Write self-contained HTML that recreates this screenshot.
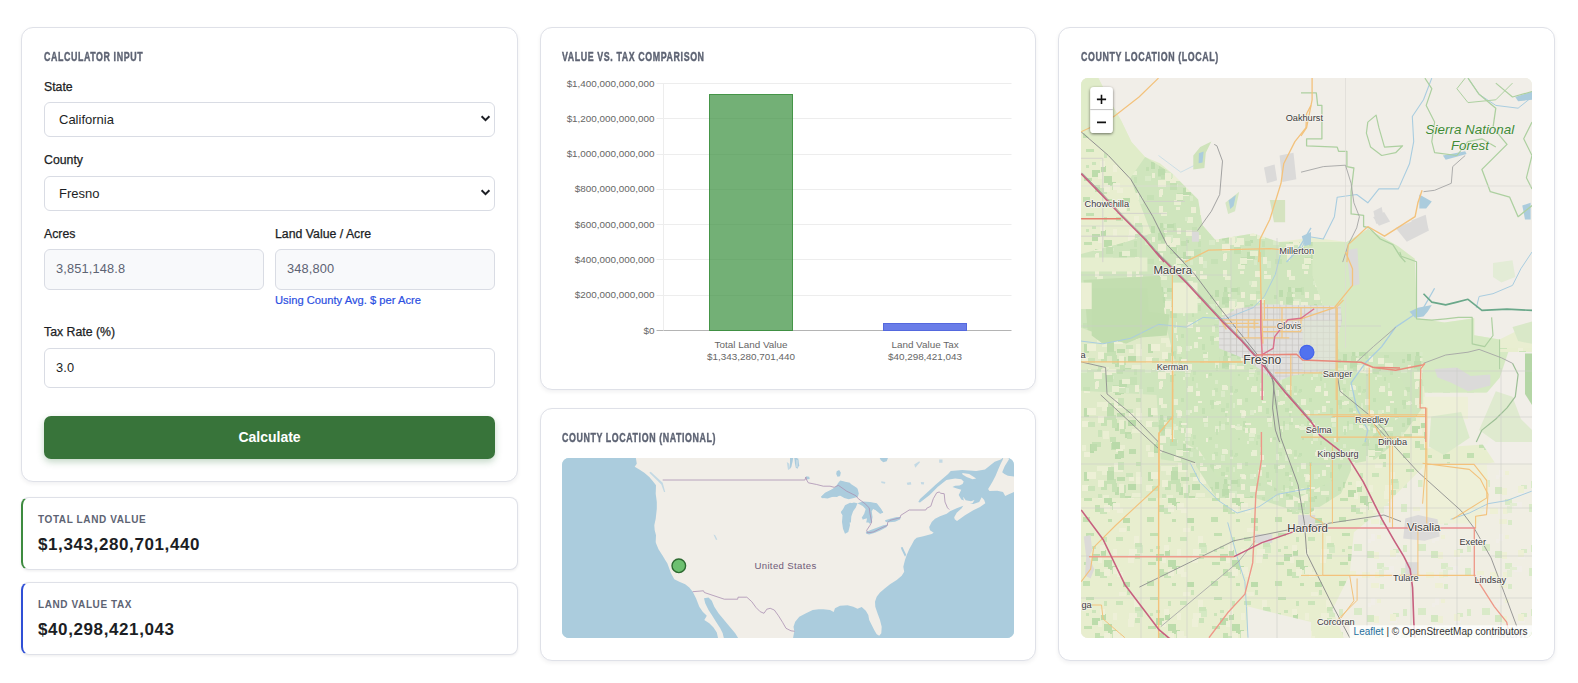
<!DOCTYPE html>
<html lang="en">
<head>
<meta charset="utf-8">
<title>Land Value Tax Calculator</title>
<style>
*{box-sizing:border-box;margin:0;padding:0}
html,body{width:1578px;height:683px;overflow:hidden;background:#fff}
body{font-family:"Liberation Sans",sans-serif;color:#1c1e24;position:relative}
.card{position:absolute;background:#fff;border:1px solid #dfe1e8;border-radius:12px;box-shadow:0 2px 4px rgba(20,25,40,.06)}
.h{position:absolute;font-weight:bold;font-size:13.3px;line-height:14px;color:#5d6373;letter-spacing:.9px;white-space:nowrap;-webkit-text-stroke:.45px #5d6373;transform-origin:0 50%;transform:scaleX(.665)}
.lbl{position:absolute;font-size:12.3px;line-height:14px;color:#1c1e24;white-space:nowrap;-webkit-text-stroke:.25px #1c1e24}
.sel{position:absolute;left:44px;width:451px;height:35px;border:1px solid #d9dce4;border-radius:6px;background:#fff;font-size:13px;line-height:33px;padding-left:14px;color:#1c1e24}
.sel svg{position:absolute;right:3px;top:11px}
.inp{position:absolute;height:41px;border:1px solid #d9dce4;border-radius:6px;background:#f8f9fb;font-size:12.8px;letter-spacing:.15px;line-height:37px;padding-left:11px;color:#5d6373}
.hint{position:absolute;left:275px;top:294px;font-size:11.2px;line-height:13px;color:#2b4fe2;white-space:nowrap;-webkit-text-stroke:.2px #2b4fe2}
.btn{position:absolute;left:44px;top:416px;width:451px;height:43px;border-radius:7px;background:#38743a;color:#fff;font-weight:bold;font-size:14px;line-height:43px;text-align:center;box-shadow:0 3px 7px rgba(40,110,50,.28)}
.res{position:absolute;left:21px;width:497px;height:73px;border:1px solid #dfe1e8;border-left-width:2px;border-radius:8px;background:#fff;box-shadow:0 1px 3px rgba(20,25,40,.08)}
.res .t{position:absolute;left:15px;top:16px;font-size:10px;line-height:12px;font-weight:bold;letter-spacing:.6px;color:#5d6373;white-space:nowrap}
.res .v{position:absolute;left:15px;top:37px;font-size:17px;letter-spacing:.6px;line-height:20px;font-weight:bold;color:#1c1e24;white-space:nowrap}
.map{position:absolute;overflow:hidden;border-radius:7px}
.map svg{display:block}
</style>
</head>
<body>

<!-- LEFT COLUMN -->
<div class="card" style="left:21px;top:27px;width:497px;height:455px"></div>
<div class="h" style="left:44px;top:50px">CALCULATOR INPUT</div>
<div class="lbl" style="left:44px;top:80px">State</div>
<div class="sel" style="top:102px">California<svg width="12" height="10" viewBox="0 0 12 10"><path d="M2.6 2.3 L6.5 6.2 L10.4 2.3" fill="none" stroke="#1c1e24" stroke-width="2"/></svg></div>
<div class="lbl" style="left:44px;top:153px">County</div>
<div class="sel" style="top:176px">Fresno<svg width="12" height="10" viewBox="0 0 12 10"><path d="M2.6 2.3 L6.5 6.2 L10.4 2.3" fill="none" stroke="#1c1e24" stroke-width="2"/></svg></div>
<div class="lbl" style="left:44px;top:227px">Acres</div>
<div class="lbl" style="left:275px;top:227px">Land Value / Acre</div>
<div class="inp" style="left:44px;top:249px;width:220px">3,851,148.8</div>
<div class="inp" style="left:275px;top:249px;width:220px">348,800</div>
<div class="hint">Using County Avg. $ per Acre</div>
<div class="lbl" style="left:44px;top:325px">Tax Rate (%)</div>
<div class="inp" style="left:44px;top:348px;width:451px;height:40px;background:#fff;color:#1c1e24">3.0</div>
<div class="btn">Calculate</div>

<div class="res" style="top:497px;border-left-color:#3d8b3f"><div class="t">TOTAL LAND VALUE</div><div class="v">$1,343,280,701,440</div></div>
<div class="res" style="top:582px;border-left-color:#2f4fd6"><div class="t">LAND VALUE TAX</div><div class="v">$40,298,421,043</div></div>

<!-- MIDDLE COLUMN -->
<div class="card" style="left:540px;top:27px;width:496px;height:363px"></div>
<div class="h" style="left:562px;top:50px">VALUE VS. TAX COMPARISON</div>
<svg id="chart" width="496" height="362" viewBox="0 0 496 362" style="position:absolute;left:540px;top:27px" font-family="Liberation Sans, sans-serif" font-size="9.9" fill="#666">
<path d="M116.5 56.5H471.5" stroke="#ededed" stroke-width="1"/>
<text x="114.5" y="59.5" text-anchor="end">$1,400,000,000,000</text>
<path d="M116.5 91.5H471.5" stroke="#ededed" stroke-width="1"/>
<text x="114.5" y="94.8" text-anchor="end">$1,200,000,000,000</text>
<path d="M116.5 127.5H471.5" stroke="#ededed" stroke-width="1"/>
<text x="114.5" y="130.1" text-anchor="end">$1,000,000,000,000</text>
<path d="M116.5 162.5H471.5" stroke="#ededed" stroke-width="1"/>
<text x="114.5" y="165.4" text-anchor="end">$800,000,000,000</text>
<path d="M116.5 197.5H471.5" stroke="#ededed" stroke-width="1"/>
<text x="114.5" y="200.6" text-anchor="end">$600,000,000,000</text>
<path d="M116.5 232.5H471.5" stroke="#ededed" stroke-width="1"/>
<text x="114.5" y="235.9" text-anchor="end">$400,000,000,000</text>
<path d="M116.5 268.5H471.5" stroke="#ededed" stroke-width="1"/>
<text x="114.5" y="271.2" text-anchor="end">$200,000,000,000</text>
<path d="M116.5 303.5H471.5" stroke="#b4b4b4" stroke-width="1"/>
<text x="114.5" y="306.5" text-anchor="end">$0</text>
<path d="M123.5 56V303.5" stroke="#ededed" stroke-width="1"/>
<rect x="169.5" y="67.5" width="83" height="236.0" fill="rgba(56,142,60,.7)" stroke="rgba(56,142,60,.9)" stroke-width="1"/>
<rect x="343.5" y="296.5" width="83" height="7.0" fill="#6a7de8" stroke="#5468de" stroke-width="1"/>
<text x="211" y="321.4" text-anchor="middle">Total Land Value</text>
<text x="211" y="333.4" text-anchor="middle">$1,343,280,701,440</text>
<text x="385" y="321.4" text-anchor="middle">Land Value Tax</text>
<text x="385" y="333.4" text-anchor="middle">$40,298,421,043</text>
</svg>

<div class="card" style="left:540px;top:408px;width:496px;height:253px"></div>
<div class="h" style="left:562px;top:431px">COUNTY LOCATION (NATIONAL)</div>
<div class="map" id="natmap" style="left:562px;top:458px;width:452px;height:180px;background:#aad3df">
<svg width="452" height="180" viewBox="0 0 452 180">
<rect width="452" height="180" fill="#abccdd"/>
<path d="M73.7 -1.0 L74.8 5.7 L72.7 8.7 L77.3 11.5 L82.3 14.8 L87.3 19.0 L91.5 24.0 L94.0 27.3 L93.7 35.7 L94.8 44.0 L94.8 50.7 L93.7 60.7 L92.3 67.3 L92.7 72.3 L94.0 77.3 L93.7 84.0 L94.0 85.3 L96.5 91.2 L100.7 97.8 L103.2 102.0 L105.3 105.3 L109.0 115.3 L112.3 121.2 L117.3 123.7 L123.2 126.2 L127.3 129.5 L130.7 133.7 L134.0 140.3 L137.3 148.7 L140.7 153.7 L144.8 157.8 L142.3 162.0 L147.3 165.3 L151.5 169.5 L154.8 174.5 L156.5 182.0 L230.7 182.0 L232.3 173.3 L231.5 168.7 L233.2 163.7 L237.3 158.7 L244.0 155.3 L250.7 152.0 L256.7 151.2 L261.3 151.2 L268.0 152.0 L271.7 154.0 L273.0 150.3 L278.0 147.8 L285.5 147.3 L291.3 148.7 L295.5 150.7 L299.7 149.0 L303.8 152.8 L306.3 157.0 L307.2 162.0 L309.7 167.0 L312.2 172.0 L314.7 176.2 L317.2 177.8 L319.3 175.3 L319.7 168.7 L318.0 162.0 L315.5 155.3 L313.3 148.7 L313.0 143.7 L314.7 138.7 L318.0 134.5 L323.0 130.3 L328.0 126.2 L334.7 122.0 L339.7 117.8 L342.2 113.7 L341.3 108.7 L343.0 102.0 L344.7 97.0 L347.2 91.2 L350.5 85.3 L352.2 82.0 L354.7 79.8 L361.3 78.2 L369.7 76.0 L371.7 74.7 L368.0 72.3 L367.2 69.0 L369.7 64.0 L373.0 60.7 L378.0 58.2 L384.7 55.7 L388.0 53.2 L394.7 50.3 L401.3 47.7 L399.7 50.3 L394.7 54.8 L392.2 59.3 L392.7 61.3 L395.0 63.0 L403.0 57.3 L411.3 52.3 L418.0 49.0 L423.3 45.3 L422.2 42.0 L419.7 39.3 L417.2 44.0 L411.3 46.0 L404.7 44.3 L401.3 42.3 L399.3 41.5 L396.7 37.1 L399.3 31.8 L394.9 30.5 L390.5 29.1 L393.1 27.8 L397.5 27.4 L400.6 26.1 L401.7 23.4 L399.3 21.2 L393.1 20.4 L384.4 22.1 L375.6 29.1 L367.7 37.1 L358.0 44.5 L356.3 44.0 L358.0 41.0 L366.8 33.1 L373.8 26.5 L380.0 21.2 L386.1 16.0 L388.8 12.9 L400.2 12.0 L414.2 12.9 L423.0 11.6 L428.3 7.2 L432.7 3.7 L438.8 1.5 L441.5 -0.7 L441.5 -4.2Z" fill="#f1eee8"/>
<path d="M442.4 -4.2 L446.9 -4.2 L446.9 1.5 L442.8 8.1 L440.2 14.2 L442.4 16.0 L445.9 17.7 L452.5 18.6 L456.4 18.6 L456.4 35.3 L452.0 34.0 L446.8 36.2 L443.2 37.9 L441.0 34.0 L435.3 32.7 L427.4 33.1 L426.1 30.9 L428.3 27.4 L430.9 23.0 L433.6 17.7 L436.2 11.6 L438.8 5.4 L440.6 1.9Z" fill="#f1eee8"/>
<path d="M400.2 15.1 L407.2 16.0 L414.2 20.4 L410.7 21.2 L404.6 19.0 L400.6 16.4Z" fill="#f1eee8"/>
<path d="M401.1 38.8 L403.7 42.3 L409.0 43.2 L412.5 41.9 L410.7 45.0 L405.5 45.8 L401.9 43.2Z" fill="#f1eee8"/>
<path d="M142.0 140.3 L146.5 139.5 L149.8 142.8 L152.3 148.7 L156.5 155.3 L160.7 160.3 L164.8 165.3 L169.0 170.3 L173.2 175.3 L177.3 182.0 L162.3 182.0 L160.7 175.3 L158.2 170.3 L154.0 163.7 L149.8 157.0 L146.5 152.0 L143.2 145.3Z" fill="#abccdd"/>
<path d="M259.0 39.1 L262.9 35.6 L268.2 32.6 L273.5 29.5 L276.1 25.1 L278.3 22.5 L283.1 23.8 L288.0 24.7 L291.1 29.5 L295.5 30.4 L296.8 35.6 L295.9 38.7 L291.9 40.0 L286.7 41.3 L282.3 40.0 L277.9 37.4 L275.2 38.3 L270.0 39.1 L265.6 40.5 L261.2 40.0Z" fill="#abccdd"/>
<path d="M279.2 55.0 L282.3 49.7 L285.8 46.2 L291.9 44.6 L295.5 45.3 L293.7 49.7 L291.1 53.2 L289.3 58.5 L288.9 64.6 L280.5 64.6 L281.8 58.5 L281.0 56.7Z" fill="#abccdd"/>
<path d="M295.5 45.3 L300.7 43.5 L307.8 44.0 L314.8 45.3 L318.3 49.7 L320.9 54.1 L318.3 55.4 L313.9 51.9 L310.4 50.6 L309.1 53.2 L309.5 58.5 L310.0 64.6 L304.2 64.6 L305.1 60.2 L302.5 61.1 L300.3 61.6 L301.6 58.5 L304.2 55.8 L304.2 51.5 L300.7 47.9Z" fill="#abccdd"/>
<path d="M258.8 39.0 L263.0 34.8 L269.7 31.5 L276.3 27.3 L278.0 23.2 L283.0 24.0 L289.7 26.5 L294.7 29.8 L296.3 35.7 L293.8 38.2 L288.0 35.7 L283.0 34.8 L279.7 36.5 L274.7 39.0 L269.7 38.2 L264.7 39.8 L260.5 40.3Z" fill="#abccdd"/>
<path d="M283.0 47.3 L288.0 44.8 L292.2 45.7 L290.5 49.8 L288.0 54.0 L287.2 60.7 L288.0 67.3 L286.3 74.0 L283.0 75.7 L281.0 70.7 L280.0 64.0 L280.5 57.3 L278.8 54.0 L281.3 50.7Z" fill="#abccdd"/>
<path d="M299.7 44.0 L306.3 44.0 L313.0 45.7 L318.8 50.7 L321.3 54.8 L318.0 55.7 L313.8 52.3 L311.3 50.7 L309.7 53.2 L310.5 59.0 L309.7 64.0 L307.2 65.7 L305.5 60.7 L303.0 59.0 L301.3 61.5 L299.7 59.8 L302.2 55.7 L303.8 50.7 L301.3 47.3Z" fill="#abccdd"/>
<path d="M303.8 74.0 L308.0 72.3 L314.7 69.8 L321.3 67.3 L325.5 66.5 L324.7 69.0 L318.8 72.3 L313.0 74.8 L307.2 76.5 L304.3 75.7Z" fill="#abccdd"/>
<path d="M323.0 62.3 L328.0 60.7 L334.7 59.0 L338.8 59.0 L338.0 61.5 L333.0 63.7 L327.2 64.3 L323.8 64.0Z" fill="#abccdd"/>
<path d="M274.7 13.2 L277.2 12.0 L278.8 14.8 L278.0 18.2 L275.5 18.7 L274.2 16.0Z" fill="#abccdd"/>
<path d="M232.2 -1.0 L236.3 0.7 L237.2 7.3 L235.5 10.7 L233.8 9.8 L233.0 5.7Z" fill="#abccdd"/>
<path d="M317.2 -1.0 L326.3 -1.0 L324.7 3.2 L321.3 4.3 L318.8 2.3Z" fill="#abccdd"/>
<path d="M228.0 -1.0 L231.3 -1.0 L230.5 4.0 L229.3 9.0 L228.0 10.7Z" fill="#abccdd"/>
<path d="M243.8 18.2 L247.2 18.7 L247.7 21.0 L244.7 21.5Z" fill="#abccdd"/>
<path d="M343.0 98.7 L339.7 92.0 L338.8 89.5 L340.5 89.0 L344.2 96.7Z" fill="#abccdd"/>
<path d="M151.5 76.5 L153.2 77.3 L155.3 81.5 L154.0 82.0Z" fill="#c3d9e4"/>
<path d="M224.8 4.0 L227.3 5.7 L228.2 10.7 L226.0 12.0Z" fill="#c3d9e4"/>
<path d="M234.0 1.5 L236.5 2.3 L235.7 9.8 L234.0 9.0Z" fill="#c3d9e4"/>
<path d="M352.2 6.5 L357.2 3.2 L358.0 4.3 L353.3 9.8Z" fill="#c3d9e4"/>
<path d="M377.2 1.5 L380.5 1.5 L380.5 4.8 L377.2 4.8Z" fill="#c3d9e4"/>
<path d="M358.8 24.0 L362.2 24.3 L361.8 26.5 L359.2 26.2Z" fill="#c3d9e4"/>
<path d="M344.7 24.8 L348.8 24.0 L349.3 26.5 L345.5 27.0Z" fill="#c3d9e4"/>
<path d="M319.3 23.2 L323.3 24.0 L323.0 25.7 L319.3 25.0Z" fill="#c3d9e4"/>
<path d="M88.7 13.7 L100.7 24.8 L103.2 34.0 L102.0 34.0 L99.3 26.5 L87.3 14.8Z" fill="#c3d9e4"/>
<path d="M100.7 22.0 L242.3 22.0 L243.0 22.0 L243.8 19.0 L244.7 22.0 L246.3 24.8 L254.7 26.5 L261.3 28.2 L268.0 28.2 L272.2 29.3 L276.3 27.3 L284.7 33.2 L293.8 37.7 L296.3 40.7 L299.7 43.2 L303.0 45.7 L307.2 49.8 L308.0 55.7 L309.7 64.0 L308.0 67.3 L304.7 72.3 L305.5 74.8 L311.3 74.0 L318.0 70.7 L325.5 67.3 L325.5 64.8 L328.0 62.3 L338.0 59.8 L338.8 57.3 L347.2 52.0 L363.8 52.0 L364.7 50.3 L368.8 48.2 L371.3 40.7 L374.7 34.8 L377.2 34.0 L378.8 35.3 L382.2 35.7 L383.0 44.0 L385.5 49.8 L387.2 51.5" fill="none" stroke="#ab90b2" stroke-width=".8"/>
<path d="M130.7 133.7 L141.5 132.8 L142.3 134.5 L162.3 141.2 L175.7 141.2 L176.0 139.2 L184.8 139.2 L189.8 143.7 L194.0 149.5 L198.2 153.7 L202.0 155.3 L204.8 151.2 L208.2 150.3 L212.3 152.0 L216.5 157.8 L220.7 164.5 L224.0 170.3 L229.0 172.8 L232.7 173.3" fill="none" stroke="#ab90b2" stroke-width=".8"/>
<text x="223.5" y="110.6" font-family="Liberation Sans, sans-serif" font-size="9.6" letter-spacing=".35" fill="#6f5a78" text-anchor="middle">United States</text>
<circle cx="116.8" cy="107.8" r="6.8" fill="#6dc070" stroke="#2d6a31" stroke-width="1.4"/>
</svg>
</div>

<!-- RIGHT COLUMN -->
<div class="card" style="left:1058px;top:27px;width:497px;height:634px"></div>
<div class="h" style="left:1081px;top:50px">COUNTY LOCATION (LOCAL)</div>
<div class="map" id="locmap" style="left:1081px;top:78px;width:451px;height:560px;background:#e9efd5">
<svg width="451" height="560" viewBox="0 0 451 560" font-family="Liberation Sans, sans-serif">
<defs>
<pattern id="pg" width="6.2" height="6.2" patternUnits="userSpaceOnUse"><rect width="6.2" height="6.2" fill="#e1e0de"/><path d="M0 .5H6.2M.5 0V6.2" stroke="#c6c4c1" stroke-width=".7"/></pattern>
</defs>
<rect width="451" height="560" fill="#f1eee8"/>
<defs><pattern id="qa" width="64" height="64" patternUnits="userSpaceOnUse"><rect width="64" height="64" fill="#cfe5bd"/><rect x="54" y="51" width="4" height="7" fill="#ecefd5"/><rect x="7" y="31" width="3" height="5" fill="#ecefd5"/><rect x="41" y="24" width="6" height="6" fill="#ecefd5"/><rect x="31" y="1" width="4" height="3" fill="#ecefd5"/><rect x="38" y="48" width="6" height="6" fill="#ecefd5"/><rect x="28" y="17" width="3" height="8" fill="#c6e1b5"/><rect x="6" y="20" width="4" height="7" fill="#bddcad"/><rect x="41" y="34" width="3" height="3" fill="#bddcad"/><rect x="13" y="27" width="6" height="8" fill="#c6e1b5"/><rect x="14" y="48" width="3" height="7" fill="#ecefd5"/><rect x="14" y="22" width="6" height="7" fill="#c3dfb2"/><rect x="48" y="29" width="8" height="4" fill="#e8efd2"/><rect x="53" y="35" width="3" height="6" fill="#c6e1b5"/><rect x="40" y="46" width="3" height="4" fill="#ecefd5"/><rect x="47" y="21" width="5" height="3" fill="#c6e1b5"/><rect x="27" y="32" width="8" height="7" fill="#ecefd5"/><rect x="19" y="18" width="8" height="4" fill="#d9eac8"/><rect x="25" y="37" width="6" height="7" fill="#ecefd5"/><rect x="15" y="47" width="3" height="6" fill="#ecefd5"/><rect x="42" y="11" width="6" height="6" fill="#e8efd2"/><rect x="49" y="43" width="7" height="8" fill="#c6e1b5"/><rect x="28" y="42" width="5" height="3" fill="#d9eac8"/><rect x="33" y="53" width="3" height="4" fill="#ecefd5"/><rect x="46" y="1" width="5" height="6" fill="#ecefd5"/><rect x="45" y="54" width="3" height="5" fill="#d9eac8"/><rect x="25" y="41" width="7" height="7" fill="#c3dfb2"/><rect x="14" y="0" width="4" height="7" fill="#ecefd5"/><rect x="58" y="55" width="4" height="7" fill="#d9eac8"/><rect x="32" y="22" width="4" height="6" fill="#ecefd5"/><rect x="29" y="58" width="7" height="5" fill="#e8efd2"/><rect x="38" y="46" width="8" height="7" fill="#bddcad"/><rect x="32" y="51" width="6" height="8" fill="#c3dfb2"/><rect x="13" y="27" width="7" height="7" fill="#bddcad"/><rect x="36" y="35" width="6" height="5" fill="#c3dfb2"/><rect x="31" y="52" width="7" height="6" fill="#e8efd2"/><rect x="0" y="34" width="6" height="5" fill="#d9eac8"/><rect x="21" y="29" width="7" height="7" fill="#d9eac8"/><rect x="40" y="11" width="3" height="4" fill="#d9eac8"/><rect x="55" y="5" width="7" height="4" fill="#ecefd5"/><rect x="2" y="53" width="7" height="5" fill="#c6e1b5"/><rect x="55" y="1" width="3" height="3" fill="#ecefd5"/><rect x="15" y="17" width="3" height="5" fill="#bddcad"/><rect x="22" y="18" width="7" height="4" fill="#bddcad"/><rect x="16" y="33" width="4" height="4" fill="#c3dfb2"/><rect x="41" y="45" width="8" height="5" fill="#e8efd2"/><rect x="20" y="31" width="6" height="8" fill="#ecefd5"/><rect x="19" y="24" width="3" height="3" fill="#e8efd2"/><rect x="16" y="6" width="6" height="4" fill="#e8efd2"/><rect x="13" y="38" width="8" height="7" fill="#ecefd5"/><rect x="1" y="25" width="3" height="4" fill="#c3dfb2"/></pattern><pattern id="qb" width="64" height="64" patternUnits="userSpaceOnUse"><rect width="64" height="64" fill="#e8eecf"/><rect x="5" y="23" width="3" height="3" fill="#cbe4b9"/><rect x="54" y="19" width="8" height="8" fill="#d5e9c3"/><rect x="38" y="2" width="7" height="4" fill="#eef0d8"/><rect x="27" y="40" width="8" height="4" fill="#bcdcab"/><rect x="23" y="34" width="8" height="7" fill="#bcdcab"/><rect x="2" y="55" width="7" height="5" fill="#c3e0b1"/><rect x="20" y="24" width="5" height="6" fill="#bcdcab"/><rect x="35" y="11" width="7" height="4" fill="#cbe4b9"/><rect x="11" y="20" width="4" height="3" fill="#cbe4b9"/><rect x="32" y="23" width="4" height="7" fill="#eef0d8"/><rect x="11" y="28" width="8" height="7" fill="#bcdcab"/><rect x="48" y="23" width="8" height="7" fill="#eef0d8"/><rect x="54" y="28" width="5" height="5" fill="#cbe4b9"/><rect x="47" y="29" width="6" height="8" fill="#eef0d8"/><rect x="17" y="31" width="4" height="6" fill="#eef0d8"/><rect x="42" y="56" width="7" height="5" fill="#bcdcab"/><rect x="36" y="46" width="6" height="5" fill="#eef0d8"/><rect x="31" y="42" width="8" height="6" fill="#cbe4b9"/><rect x="53" y="10" width="5" height="8" fill="#eef0d8"/><rect x="19" y="19" width="5" height="6" fill="#eef0d8"/><rect x="32" y="41" width="7" height="7" fill="#eef0d8"/><rect x="19" y="46" width="7" height="6" fill="#cbe4b9"/><rect x="23" y="43" width="6" height="7" fill="#eef0d8"/><rect x="46" y="0" width="3" height="5" fill="#cbe4b9"/><rect x="3" y="36" width="8" height="3" fill="#c3e0b1"/><rect x="14" y="43" width="5" height="7" fill="#c3e0b1"/><rect x="54" y="17" width="7" height="4" fill="#cbe4b9"/><rect x="27" y="57" width="4" height="3" fill="#c3e0b1"/><rect x="23" y="11" width="3" height="5" fill="#cbe4b9"/><rect x="5" y="7" width="8" height="3" fill="#c3e0b1"/></pattern><pattern id="qc" width="64" height="64" patternUnits="userSpaceOnUse"><rect width="64" height="64" fill="#f0eee3"/><rect x="34" y="8" width="4" height="7" fill="#f1eee8"/><rect x="40" y="37" width="7" height="6" fill="#d9eac8"/><rect x="53" y="30" width="7" height="3" fill="#f1eee8"/><rect x="12" y="45" width="7" height="4" fill="#eef0d5"/><rect x="30" y="25" width="7" height="7" fill="#d3e7c1"/><rect x="40" y="9" width="4" height="4" fill="#eef0d5"/><rect x="0" y="42" width="6" height="8" fill="#d9eac8"/><rect x="2" y="19" width="4" height="7" fill="#d9eac8"/><rect x="38" y="46" width="5" height="6" fill="#eef0d5"/><rect x="25" y="46" width="8" height="6" fill="#eef0d5"/><rect x="56" y="23" width="6" height="4" fill="#d9eac8"/><rect x="31" y="13" width="3" height="4" fill="#f1eee8"/><rect x="49" y="40" width="8" height="6" fill="#f1eee8"/><rect x="53" y="24" width="6" height="7" fill="#eef0d5"/><rect x="37" y="26" width="5" height="7" fill="#eef0d5"/><rect x="43" y="58" width="4" height="5" fill="#d9eac8"/><rect x="42" y="44" width="5" height="7" fill="#e3edd3"/><rect x="34" y="57" width="8" height="5" fill="#eef0d5"/><rect x="45" y="41" width="7" height="3" fill="#e3edd3"/><rect x="17" y="18" width="8" height="7" fill="#d9eac8"/></pattern><pattern id="qe" width="64" height="64" patternUnits="userSpaceOnUse"><rect width="64" height="64" fill="#dfeac8"/><rect x="47" y="22" width="8" height="6" fill="#b9daa9"/><rect x="33" y="1" width="9" height="9" fill="#edf0d6"/><rect x="3" y="10" width="5" height="9" fill="#bedcad"/><rect x="55" y="15" width="6" height="7" fill="#edf0d6"/><rect x="36" y="15" width="8" height="4" fill="#bedcad"/><rect x="26" y="17" width="9" height="5" fill="#c6e1b4"/><rect x="48" y="51" width="7" height="5" fill="#bedcad"/><rect x="39" y="28" width="5" height="8" fill="#c6e1b4"/><rect x="55" y="0" width="5" height="4" fill="#c6e1b4"/><rect x="55" y="10" width="5" height="5" fill="#eaefd3"/><rect x="34" y="56" width="6" height="5" fill="#b9daa9"/><rect x="11" y="44" width="9" height="5" fill="#c6e1b4"/><rect x="1" y="23" width="7" height="6" fill="#edf0d6"/><rect x="16" y="4" width="5" height="5" fill="#eaefd3"/><rect x="37" y="0" width="6" height="8" fill="#cbe3b9"/><rect x="21" y="4" width="9" height="9" fill="#eaefd3"/><rect x="30" y="44" width="6" height="6" fill="#eaefd3"/><rect x="30" y="45" width="5" height="7" fill="#c6e1b4"/><rect x="1" y="47" width="4" height="6" fill="#eaefd3"/><rect x="35" y="50" width="7" height="4" fill="#edf0d6"/><rect x="37" y="53" width="6" height="7" fill="#bedcad"/><rect x="45" y="11" width="7" height="4" fill="#cbe3b9"/><rect x="48" y="15" width="5" height="4" fill="#edf0d6"/><rect x="22" y="33" width="6" height="8" fill="#eaefd3"/><rect x="37" y="47" width="7" height="4" fill="#eaefd3"/><rect x="27" y="5" width="6" height="4" fill="#c6e1b4"/><rect x="39" y="23" width="6" height="8" fill="#c6e1b4"/><rect x="44" y="34" width="6" height="6" fill="#bedcad"/><rect x="20" y="19" width="6" height="9" fill="#c6e1b4"/><rect x="9" y="46" width="4" height="9" fill="#b9daa9"/><rect x="10" y="46" width="6" height="7" fill="#bedcad"/><rect x="34" y="25" width="4" height="8" fill="#bedcad"/><rect x="38" y="22" width="5" height="9" fill="#eaefd3"/><rect x="26" y="9" width="7" height="9" fill="#bedcad"/><rect x="51" y="31" width="9" height="4" fill="#eaefd3"/><rect x="46" y="36" width="5" height="5" fill="#c6e1b4"/><rect x="6" y="10" width="9" height="7" fill="#edf0d6"/><rect x="3" y="54" width="6" height="5" fill="#edf0d6"/><rect x="29" y="39" width="6" height="5" fill="#c6e1b4"/><rect x="31" y="44" width="8" height="7" fill="#b9daa9"/><rect x="17" y="18" width="6" height="7" fill="#edf0d6"/><rect x="7" y="24" width="7" height="5" fill="#cbe3b9"/><rect x="31" y="21" width="5" height="9" fill="#c6e1b4"/><rect x="17" y="32" width="4" height="7" fill="#cbe3b9"/></pattern><pattern id="qd" width="64" height="64" patternUnits="userSpaceOnUse"><rect width="64" height="64" fill="#cfe6bc"/><rect x="6" y="46" width="3" height="4" fill="#dcebca"/><rect x="5" y="4" width="5" height="3" fill="#e9efd4"/><rect x="58" y="18" width="5" height="6" fill="#e9efd4"/><rect x="34" y="23" width="3" height="6" fill="#c4e0b3"/><rect x="16" y="13" width="3" height="2" fill="#e9efd4"/><rect x="12" y="10" width="4" height="4" fill="#c4e0b3"/><rect x="5" y="54" width="4" height="4" fill="#c7e2b6"/><rect x="32" y="15" width="4" height="5" fill="#e4eed0"/><rect x="17" y="5" width="3" height="5" fill="#c7e2b6"/><rect x="58" y="18" width="4" height="2" fill="#c7e2b6"/><rect x="12" y="26" width="4" height="6" fill="#dcebca"/><rect x="27" y="28" width="6" height="4" fill="#e4eed0"/><rect x="16" y="52" width="3" height="4" fill="#e9efd4"/><rect x="29" y="40" width="2" height="2" fill="#c4e0b3"/><rect x="41" y="30" width="6" height="6" fill="#eef0d8"/><rect x="43" y="12" width="4" height="3" fill="#e9efd4"/><rect x="40" y="40" width="5" height="3" fill="#dcebca"/><rect x="22" y="27" width="4" height="3" fill="#eef0d8"/><rect x="40" y="35" width="6" height="4" fill="#e4eed0"/><rect x="53" y="3" width="4" height="2" fill="#eef0d8"/><rect x="48" y="37" width="3" height="4" fill="#c7e2b6"/><rect x="21" y="59" width="3" height="2" fill="#e4eed0"/><rect x="1" y="2" width="4" height="5" fill="#c4e0b3"/><rect x="47" y="43" width="2" height="4" fill="#c4e0b3"/><rect x="18" y="20" width="2" height="4" fill="#e4eed0"/><rect x="43" y="52" width="5" height="6" fill="#e9efd4"/><rect x="12" y="57" width="4" height="6" fill="#dcebca"/><rect x="16" y="24" width="4" height="3" fill="#c7e2b6"/><rect x="36" y="0" width="3" height="4" fill="#c4e0b3"/><rect x="10" y="23" width="2" height="5" fill="#c4e0b3"/><rect x="6" y="28" width="4" height="6" fill="#e4eed0"/><rect x="7" y="3" width="5" height="3" fill="#e9efd4"/><rect x="38" y="43" width="2" height="3" fill="#e4eed0"/><rect x="34" y="31" width="6" height="2" fill="#c7e2b6"/><rect x="2" y="7" width="3" height="4" fill="#c7e2b6"/><rect x="41" y="12" width="4" height="5" fill="#dcebca"/><rect x="28" y="26" width="3" height="3" fill="#dcebca"/><rect x="26" y="28" width="2" height="3" fill="#e4eed0"/><rect x="31" y="12" width="5" height="3" fill="#e9efd4"/><rect x="16" y="15" width="2" height="4" fill="#c7e2b6"/><rect x="26" y="55" width="3" height="3" fill="#c4e0b3"/><rect x="3" y="57" width="3" height="4" fill="#c4e0b3"/><rect x="36" y="25" width="6" height="2" fill="#eef0d8"/><rect x="24" y="5" width="2" height="5" fill="#dcebca"/><rect x="57" y="10" width="3" height="6" fill="#c4e0b3"/><rect x="51" y="57" width="4" height="5" fill="#eef0d8"/><rect x="33" y="13" width="4" height="5" fill="#eef0d8"/><rect x="59" y="25" width="4" height="4" fill="#dcebca"/><rect x="61" y="40" width="2" height="4" fill="#eef0d8"/><rect x="25" y="57" width="3" height="2" fill="#c7e2b6"/><rect x="42" y="54" width="3" height="4" fill="#e9efd4"/><rect x="36" y="30" width="3" height="5" fill="#eef0d8"/><rect x="13" y="51" width="5" height="5" fill="#e9efd4"/><rect x="0" y="39" width="3" height="3" fill="#c4e0b3"/><rect x="51" y="49" width="2" height="5" fill="#dcebca"/><rect x="3" y="56" width="3" height="6" fill="#e4eed0"/><rect x="21" y="52" width="3" height="6" fill="#c7e2b6"/><rect x="28" y="1" width="5" height="6" fill="#e9efd4"/><rect x="7" y="31" width="2" height="6" fill="#c7e2b6"/><rect x="49" y="8" width="4" height="6" fill="#e9efd4"/></pattern></defs>
<path d="M-2.6 -2.6L16.1 -2.6L29.7 24.6L39.9 42.0L50.5 64.1L64.1 78.9L91.7 95.9L117.1 121.4L121.4 146.9L134.1 161.7L172.3 155.4L197.8 163.9L231.8 159.6L265.8 163.9L287.0 151.1L316.7 168.1L333.7 180.8L335.8 240.3L363.4 244.5L393.2 240.3L393.2 257.3L418.6 261.5L444.1 248.8L456.8 248.8L456.8 291.2L-2.6 291.2Z" fill="#e9eed1" />
<path d="M0 270L451 270L451 560L0 560Z" fill="url(#qb)" />
<path d="M272.9 454.2L294.3 437.0L345.8 385.5L405.8 385.5L461.6 377.0L461.6 574.3L268.6 574.3L251.4 531.4L268.6 497.1Z" fill="url(#qc)" />
<path d="M401.6 274.0L461.6 274.0L461.6 385.5L414.4 385.5L397.3 359.8L405.8 325.5Z" fill="#f1eee8" />
<path d="M265.8 163.9L287.0 151.1L316.7 168.1L333.7 180.8L335.8 240.3L363.4 244.5L393.2 240.3L393.2 257.3L418.6 261.5L418.6 291.2L265.8 291.2L248.8 248.8L231.8 197.8L231.8 163.9Z" fill="#d6e9c3" />
<path d="M337.2 274.0L427.3 274.0L418.7 299.7L405.8 314.8L343.6 314.8Z" fill="#d6e9c3" />
<path d="M343.6 314.8L405.8 314.8L423.0 329.8L405.8 366.2L345.8 370.5Z" fill="#f0eee4" />
<path d="M342.5 318.7L387.0 318.7L387.0 341.0L342.5 341.0Z" fill="#eef0d8" />
<path d="M350.1 338.4L380.1 334.1L388.7 359.8L362.9 377.0L347.9 368.4Z" fill="#dbeaca" />
<path d="M-2.6 -2.6L16.1 -2.6L29.7 24.6L39.9 42.0L50.5 64.1L64.1 78.9L78.9 85.3L91.7 95.9L49.2 100.2L36.5 87.4L-2.6 49.2Z" fill="#e0ecc9" />
<path d="M-2.6 49.2L36.5 87.4L49.2 100.2L70.4 155.4L45.0 163.9L-2.6 176.6Z" fill="url(#qb)" />
<path d="M49.2 100.2L64.1 78.9L91.7 95.9L117.1 121.4L121.4 146.9L134.1 161.7L172.3 155.4L197.8 163.9L231.8 163.9L231.8 197.8L248.8 248.8L265.8 291.2L-2.6 291.2L-2.6 176.6L45.0 163.9L70.4 155.4Z" fill="url(#qa)" />
<path d="M2.5 202.1L78.9 197.8L85.3 248.8L45.0 265.8L6.7 253.0Z" fill="#c3deb0" />
<path d="M-2.6 274.0L341.5 274.0L341.5 329.8L320.0 359.8L294.3 381.3L272.9 385.5L260.0 415.6L225.7 437.0L174.2 419.9L135.6 419.9L101.3 415.6L58.4 415.6L-2.6 415.6Z" fill="url(#qa)" />
<path d="M-2.6 312.6L75.5 316.9L79.8 381.3L114.1 386.4L135.6 419.9L-2.6 419.9Z" fill="url(#qe)" />
<path d="M-2.6 248.8L45.0 265.8L85.3 248.8L95.9 291.2L-2.6 291.2Z" fill="url(#qe)" />
<path d="M92.7 291.2L178.5 291.2L251.4 291.2L320.0 299.7L332.9 329.8L294.3 355.5L268.6 377.0L251.4 402.7L217.1 419.9L178.5 402.7L135.6 398.4L118.4 372.7L92.7 359.8Z" fill="url(#qd)" />
<path d="M95.9 231.8L138.4 236.0L138.4 291.2L95.9 291.2Z" fill="url(#qd)" />
<path d="M10.7 210.2L66.4 210.2L67.8 233.8L88.6 236.6L85.8 257.5L49.7 260.3L21.8 265.8L10.7 257.5Z" fill="#c1ddae" />
<path d="M91.4 204.6L116.5 204.6L116.5 235.2L91.4 235.2Z" fill="#ebefd4" />
<path d="M0.1 204.6L10.7 204.6L10.7 231.1L0.1 231.1Z" fill="#ebefd4" />
<path d="M0.1 179.6L66.4 179.6L66.4 193.5L0.1 193.5Z" fill="#e6eecf" />
<path d="M167.0 528.6L230.0 544.1L230.0 572.2L167.0 572.2Z" fill="#f0eee6" />
<path d="M2.7 458.4L9.6 456.9L11.1 472.5L8.0 478.7L13.3 491.2L9.6 500.5L4.0 497.4L5.2 478.7Z" fill="#dcdad8" />
<path d="M341.5 386.4L405.8 386.4L408.0 415.6L397.3 445.6L345.8 445.6L341.5 415.6Z" fill="#eef0d8" />
<path d="M444.0 275.6L451.0 275.6L451.0 327.1L444.0 315.9Z" fill="#b5d6a6" />
<path d="M431.5 249.1L451.0 243.6L451.0 265.8L437.1 263.1Z" fill="#d9e8c8" />
<path d="M414.8 313.2L431.5 318.7L439.9 341.0L451.0 352.1L451.0 364.1L414.8 364.1L398.1 352.1Z" fill="#dfeacf" />
<path d="M412.0 185.1L431.5 182.3L434.3 199.0L420.4 204.6L412.0 199.0Z" fill="#e3ecd6" />
<path d="M138.0 241.0L155.6 230.8L183.4 226.4L259.6 227.9L261.0 242.5L255.2 265.9L255.2 290.8L209.8 298.1L195.1 304.0L180.5 292.3L162.9 280.6L138.0 270.3Z" fill="url(#pg)" />
<path d="M221.5 242.5L259.6 242.5L255.2 265.9L255.2 290.8L221.5 292.3Z" fill="rgba(222,232,210,.55)" />
<path d="M183.0 89.5L193.6 86.6L196.1 102.3L185.9 105.3Z" fill="#dbdad9" />
<path d="M292.1 139.2L303.1 134.1L309.1 143.5L298.0 147.7Z" fill="#dbdad9" />
<path d="M330.3 142.6L344.7 136.7L347.3 151.1L334.6 157.1Z" fill="#dbdad9" />
<path d="M292.4 133.2L300.7 129.0L303.5 144.3L295.1 145.7Z" fill="#dbdad9" />
<path d="M314.6 149.9L342.5 138.7L348.0 152.6L325.8 163.8Z" fill="#dbdad9" />
<path d="M217.1 437.0L234.2 437.0L234.2 449.9L217.1 449.9Z" fill="#dbdad9" />
<path d="M324.3 440.5L337.2 437.0L356.5 441.3L358.7 458.5L343.6 462.8L322.2 460.6Z" fill="#dbdad9" />
<path d="M174.2 456.3L191.3 456.3L191.3 464.9L174.2 464.9Z" fill="#dbdad9" />
<path d="M353.6 290.9L375.9 289.5L389.8 297.9L409.3 296.5L409.3 307.6L387.0 313.2L370.3 304.8L356.4 299.2Z" fill="#dbdad9" />
<path d="M265.8 172.3L276.4 170.2L278.5 206.3L269.2 208.4Z" fill="#dbdad9" />
<path d="M324.3 484.2L337.2 484.2L337.2 497.1L324.3 497.1Z" fill="#dbdad9" />
<path d="M110.9 154.0L117.9 154.0L117.9 163.8L110.9 163.8Z" fill="#dbdad9" />
<path d="M198.6 77.5L212.5 74.7L215.3 101.2L201.3 103.9Z" fill="#dbdad9" />
<path d="M350.8 0.1L342.5 21.8L331.3 38.5L332.7 63.6L328.5 85.8L317.4 110.9L297.9 110.9L286.8 124.8L275.7 116.5L256.2 119.2L253.4 138.7L242.3 161.0L225.6 158.2L220.0 172.1" fill="none" stroke="#a9cde0" stroke-width="1.1" stroke-linejoin="round" />
<path d="M230.0 149.9L216.7 172.1L205.5 184.1" fill="none" stroke="#a9cde0" stroke-width="1.4" stroke-linejoin="round" />
<path d="M200.0 174.0L194.4 196.3L183.3 218.5L172.1 229.7L144.3 240.8L122.0 239.4L105.3 249.1L77.5 246.4L49.7 260.3L21.8 265.8L0.1 263.1L-6.0 265.8" fill="none" stroke="#a9cde0" stroke-width="1.0" stroke-linejoin="round" />
<path d="M353.6 210.2L342.5 229.7L331.3 238.0L314.6 249.1L300.7 268.6L284.0 285.3L270.1 304.8L275.7 329.9L286.8 352.1L284.0 364.1" fill="none" stroke="#a9cde0" stroke-width="1.3" stroke-linejoin="round" />
<path d="M109.3 385.2L118.7 403.9L137.4 422.6L156.1 435.0L177.9 428.8L196.6 416.3L230.0 410.1" fill="none" stroke="#a9cde0" stroke-width="1.0" stroke-linejoin="round" />
<path d="M146.7 444.4L156.1 478.7L163.9 503.6L165.4 528.6L167.0 559.7" fill="none" stroke="#a9cde0" stroke-width="1.0" stroke-linejoin="round" />
<path d="M450.7 413.2L425.7 422.6L407.0 425.7L388.3 435.0L369.6 441.3" fill="none" stroke="#a9cde0" stroke-width="1.0" stroke-linejoin="round" />
<path d="M77.5 77.5L99.8 94.2L116.5 85.8" fill="none" stroke="#c3dbe6" stroke-width="0.8" stroke-linejoin="round" />
<path d="M387.0 0.1L398.1 16.3L414.8 27.4L437.1 30.2L451.0 19.0" fill="none" stroke="#a9cde0" stroke-width="1.0" stroke-linejoin="round" />
<path d="M451.0 174.0L439.9 190.7L431.5 207.4L412.0 215.7L398.1 218.5L395.3 229.7" fill="none" stroke="#a9cde0" stroke-width="1.0" stroke-linejoin="round" />
<path d="M328.5 233.8L336.9 229.7L350.8 226.9L346.6 233.8L342.5 238.6L334.1 239.7Z" fill="#abccdd" />
<path d="M361.9 77.5L384.2 73.3L385.6 76.1L364.7 81.7Z" fill="#abccdd" />
<path d="M338.3 116.5L350.8 123.4L345.2 130.4L338.3 130.4Z" fill="#abccdd" />
<path d="M117.9 75.3L122.6 73.6L121.5 84.5L117.6 85.3Z" fill="#abccdd" />
<path d="M147.6 122.6L154.9 117.0L152.6 128.1L149.3 130.9Z" fill="#abccdd" />
<path d="M434.3 19.0L451.0 13.5L451.0 21.8L437.1 23.2Z" fill="#abccdd" />
<path d="M441.3 127.6L449.6 124.8L449.6 141.5L444.0 141.5Z" fill="#abccdd" />
<path d="M220.8 158.2L230.0 154.0L230.0 166.6L223.6 167.9Z" fill="#abccdd" />
<path d="M112.3 77.5L119.2 69.1L130.4 63.6L124.8 74.7L123.4 90.0L112.3 91.4Z" fill="#cfe3bb" />
<path d="M144.3 124.8L158.2 113.7L154.0 133.2L147.1 135.9Z" fill="#d5e6c4" />
<path d="M188.8 122.0L204.1 122.0L204.1 144.3L193.0 144.3Z" fill="#d5e3c0" />
<path d="M342.5 215.7L350.8 224.1L364.7 226.9L375.9 224.1L387.0 221.3L400.9 232.4L426.0 231.1L451.0 232.4" fill="none" stroke="#6aa88a" stroke-width="1.6" stroke-linejoin="round" />
<path d="M431.5 285.3L437.1 296.5L434.3 318.7L426.0 329.9L414.8 341.0L400.9 352.1L395.3 364.1" fill="none" stroke="#9cbf95" stroke-width="1.2" stroke-linejoin="round" />
<path d="M117.9 75.3L122.6 73.6L121.5 84.5L117.6 85.3Z" fill="#abccdd" />
<path d="M147.6 122.6L154.9 117.0L152.6 128.1L149.3 130.9Z" fill="#abccdd" />
<path d="M220.0 14.9L235.3 14.9L236.7 27.4L240.9 27.4L240.9 60.8L225.6 60.8L225.6 67.8L256.2 69.1L257.6 73.3L265.9 73.3L265.9 88.6L272.9 90.0L270.1 113.7L270.1 135.9L282.6 137.3L282.6 148.5L288.2 149.9L299.3 161.0L311.8 166.6L318.8 177.7L324.4 184.1" fill="none" stroke="#add0a0" stroke-width="1.3" stroke-linejoin="round" />
<path d="M318.8 174.0L320.2 178.2L335.5 183.7L335.5 240.8L350.8 242.2L364.7 240.8L377.3 239.4L391.2 239.4L391.2 265.8L403.7 268.6L412.0 257.5L410.6 239.4" fill="none" stroke="#add0a0" stroke-width="1.2" stroke-linejoin="round" />
<path d="M286.8 44.1L295.1 37.1L297.9 49.7L303.5 69.1L321.6 67.8L314.6 74.7L300.7 77.5L289.6 69.1L285.4 55.2L286.8 44.1" fill="none" stroke="#add0a0" stroke-width="1.2" stroke-linejoin="round" />
<path d="M387.0 0.1L398.1 16.3L414.8 30.2L412.0 49.7L426.0 66.4L400.9 91.4L409.3 113.7L428.7 119.2L437.1 138.7L451.0 127.6" fill="none" stroke="#add0a0" stroke-width="1.3" stroke-linejoin="round" />
<path d="M414.8 5.1L431.5 19.0L451.0 13.5" fill="none" stroke="#add0a0" stroke-width="1.2" stroke-linejoin="round" />
<path d="M343.9 0.1L350.8 10.7L345.2 27.4L353.6 44.1L350.8 63.6L353.6 74.7L375.9 77.5L387.0 63.6L400.9 60.8L414.8 69.1" fill="none" stroke="#add0a0" stroke-width="1.2" stroke-linejoin="round" />
<path d="M451.0 44.1L442.7 60.8L451.0 77.5L445.4 99.8L451.0 110.9" fill="none" stroke="#add0a0" stroke-width="1.2" stroke-linejoin="round" />
<path d="M384.2 0.1L375.9 10.7L387.0 24.6L414.8 21.8L431.5 5.1" fill="none" stroke="#add0a0" stroke-width="1.0" stroke-linejoin="round" />
<path d="M418.6 261.5L418.6 291.2" fill="none" stroke="#add0a0" stroke-width="1.0" stroke-linejoin="round" />
<path d="M0 148L70 148" fill="none" stroke="#cfcdca" stroke-width="0.6" stroke-linejoin="round" />
<path d="M0 197L150 197" fill="none" stroke="#cfcdca" stroke-width="0.6" stroke-linejoin="round" />
<path d="M0 248L300 248" fill="none" stroke="#cfcdca" stroke-width="0.6" stroke-linejoin="round" />
<path d="M0 293L451 293" fill="none" stroke="#cfcdca" stroke-width="0.6" stroke-linejoin="round" />
<path d="M0 339L451 339" fill="none" stroke="#cfcdca" stroke-width="0.6" stroke-linejoin="round" />
<path d="M0 386L451 386" fill="none" stroke="#cfcdca" stroke-width="0.6" stroke-linejoin="round" />
<path d="M0 430L451 430" fill="none" stroke="#cfcdca" stroke-width="0.6" stroke-linejoin="round" />
<path d="M0 478L451 478" fill="none" stroke="#cfcdca" stroke-width="0.6" stroke-linejoin="round" />
<path d="M0 520L451 520" fill="none" stroke="#cfcdca" stroke-width="0.6" stroke-linejoin="round" />
<path d="M60 160L60 560" fill="none" stroke="#cfcdca" stroke-width="0.6" stroke-linejoin="round" />
<path d="M106 160L106 560" fill="none" stroke="#cfcdca" stroke-width="0.6" stroke-linejoin="round" />
<path d="M150 160L150 560" fill="none" stroke="#cfcdca" stroke-width="0.6" stroke-linejoin="round" />
<path d="M196 160L196 560" fill="none" stroke="#cfcdca" stroke-width="0.6" stroke-linejoin="round" />
<path d="M286 290L286 560" fill="none" stroke="#cfcdca" stroke-width="0.6" stroke-linejoin="round" />
<path d="M330 290L330 560" fill="none" stroke="#cfcdca" stroke-width="0.6" stroke-linejoin="round" />
<path d="M376 290L376 560" fill="none" stroke="#cfcdca" stroke-width="0.6" stroke-linejoin="round" />
<path d="M420 290L420 560" fill="none" stroke="#cfcdca" stroke-width="0.6" stroke-linejoin="round" />
<path d="M0.1 80.3L21.8 80.3L21.8 184.1" fill="none" stroke="#cfcdca" stroke-width="0.8" stroke-linejoin="round" />
<path d="M0.1 158.2L66.4 158.2" fill="none" stroke="#cfcdca" stroke-width="0.8" stroke-linejoin="round" />
<path d="M63.6 123.4L103.9 123.4" fill="none" stroke="#cfcdca" stroke-width="0.8" stroke-linejoin="round" />
<path d="M35.7 135.4L85.8 135.4" fill="none" stroke="#cfcdca" stroke-width="0.8" stroke-linejoin="round" />
<path d="M81.7 153.2L116.5 153.2" fill="none" stroke="#cfcdca" stroke-width="0.8" stroke-linejoin="round" />
<path d="M0 108L451 108" fill="none" stroke="#dcdad6" stroke-width="0.7" stroke-linejoin="round" />
<path d="M264.5 0L264.5 270" fill="none" stroke="#dcdad6" stroke-width="0.7" stroke-linejoin="round" />
<path d="M0.1 53.8L27.4 77.5L49.7 101.2L71.9 138.7L85.8 166.6L102.5 184.1" fill="none" stroke="#8f8f8f" stroke-width="1.0" stroke-linejoin="round" />
<path d="M92.8 174.0L113.7 196.3L138.7 229.7L161.0 257.5L183.3 285.3L188.8 296.5L193.0 304.8L191.6 329.9L194.4 352.1L198.6 364.1" fill="none" stroke="#8f8f8f" stroke-width="1.0" stroke-linejoin="round" />
<path d="M191.3 299.7L199.9 359.8L217.1 407.0L223.5 445.6L225.7 475.6L251.4 527.1L268.6 559.3L277.1 574.3" fill="none" stroke="#8f8f8f" stroke-width="1.0" stroke-linejoin="round" />
<path d="M58.4 509.1L152.7 462.8L217.1 449.9L302.9 437.0L320.0 443.5" fill="none" stroke="#8f8f8f" stroke-width="0.9" stroke-linejoin="round" />
<path d="M79.8 548.6L157.0 484.2L174.2 462.8" fill="none" stroke="#a9a9a9" stroke-width="0.9" stroke-linejoin="round" />
<path d="M0.1 283.9L24.6 289.5L26.0 315.9L49.7 335.4L77.5 364.1" fill="none" stroke="#8f8f8f" stroke-width="0.9" stroke-linejoin="round" />
<path d="M19.7 316.9L79.8 372.7L114.1 384.7" fill="none" stroke="#8f8f8f" stroke-width="0.9" stroke-linejoin="round" />
<path d="M256.2 296.5L259.0 313.2L289.6 338.2L303.5 352.1L311.8 364.1" fill="none" stroke="#8f8f8f" stroke-width="0.9" stroke-linejoin="round" />
<path d="M290.0 342.6L337.2 394.1L380.1 432.7L393.0 449.9L410.1 479.9L423.0 514.2L435.9 548.6" fill="none" stroke="#8f8f8f" stroke-width="0.9" stroke-linejoin="round" />
<path d="M133.2 66.4L135.9 67.8L141.5 83.1L138.7 116.5L130.4 133.2L116.5 152.6" fill="none" stroke="#9a9a9a" stroke-width="0.9" stroke-linejoin="round" />
<path d="M220.0 94.2L242.3 88.6L264.5 87.2L270.1 105.3L272.9 124.8L278.4 138.7L275.7 149.9L267.3 166.6L261.7 184.1" fill="none" stroke="#a5a5a5" stroke-width="0.9" stroke-linejoin="round" />
<path d="M342.5 113.7L353.6 112.3L370.3 105.3L371.7 88.6L384.2 77.5" fill="none" stroke="#a5a5a5" stroke-width="0.9" stroke-linejoin="round" />
<path d="M275.7 283.9L292.4 268.6L311.8 251.9L314.6 249.1" fill="none" stroke="#a5a5a5" stroke-width="0.9" stroke-linejoin="round" />
<path d="M342.5 285.3L364.7 277.0L387.0 274.2L398.1 271.4L420.4 279.8L431.5 285.3" fill="none" stroke="#a5a5a5" stroke-width="0.9" stroke-linejoin="round" />
<path d="M179.1 174.0L179.9 213.0L181.9 265.8" fill="none" stroke="#f3c27c" stroke-width="1.3" stroke-linejoin="round" />
<path d="M177.7 184.1L179.1 161.0L188.8 141.5L200.0 105.3L202.7 85.8L213.9 63.6L225.0 49.7L225.6 35.7L230.0 27.4" fill="none" stroke="#f3c27c" stroke-width="1.3" stroke-linejoin="round" />
<path d="M220.0 58.0L225.6 49.7L231.1 21.8L231.1 0.1" fill="none" stroke="#f3c27c" stroke-width="1.3" stroke-linejoin="round" />
<path d="M0.1 53.8L33.0 38.5L58.0 19.0L77.5 0.1" fill="none" stroke="#f3c27c" stroke-width="1.2" stroke-linejoin="round" />
<path d="M91.4 193.5L91.4 364.1" fill="none" stroke="#f3c27c" stroke-width="1.2" stroke-linejoin="round" />
<path d="M91.8 291.2L91.8 338.4L77.7 355.5L77.7 574.3" fill="none" stroke="#f3c27c" stroke-width="1.2" stroke-linejoin="round" />
<path d="M103.9 184.1L127.6 172.1L188.8 170.7L205.5 172.1" fill="none" stroke="#f3c27c" stroke-width="1.2" stroke-linejoin="round" />
<path d="M0.1 283.9L161.0 283.9" fill="none" stroke="#f3c27c" stroke-width="1.3" stroke-linejoin="round" />
<path d="M220.0 240.8L253.4 229.7L271.5 207.4L271.5 190.7L264.5 174.0" fill="none" stroke="#f3c27c" stroke-width="1.3" stroke-linejoin="round" />
<path d="M286.8 148.5L303.5 158.2L334.1 138.7L336.9 124.8L341.1 112.3" fill="none" stroke="#f3c27c" stroke-width="1.4" stroke-linejoin="round" />
<path d="M265.9 184.1L267.3 166.6L286.8 148.5" fill="none" stroke="#f3c27c" stroke-width="1.2" stroke-linejoin="round" />
<path d="M256.2 229.7L256.2 364.1" fill="none" stroke="#f3c27c" stroke-width="1.2" stroke-linejoin="round" />
<path d="M288.2 289.5L288.2 338.2L303.5 364.1" fill="none" stroke="#f3c27c" stroke-width="1.1" stroke-linejoin="round" />
<path d="M220.0 336.8L345.2 336.8" fill="none" stroke="#f3c27c" stroke-width="1.1" stroke-linejoin="round" />
<path d="M220.0 359.1L345.2 359.1" fill="none" stroke="#f3c27c" stroke-width="1.1" stroke-linejoin="round" />
<path d="M251.4 338.4L345.8 338.4" fill="none" stroke="#f3c27c" stroke-width="1.1" stroke-linejoin="round" />
<path d="M311.5 359.8L311.5 449.9" fill="none" stroke="#f3c27c" stroke-width="1.1" stroke-linejoin="round" />
<path d="M345.8 329.8L345.8 445.6" fill="none" stroke="#f3c27c" stroke-width="1.1" stroke-linejoin="round" />
<path d="M345.8 386.4L393.0 386.4L405.8 402.7L405.8 419.9L371.5 441.3" fill="none" stroke="#f3c27c" stroke-width="1.1" stroke-linejoin="round" />
<path d="M341.6 385.2L388.3 391.4L399.2 400.8L407.0 416.3L405.5 436.6L394.6 438.2L394.6 450.6" fill="none" stroke="#f3c27c" stroke-width="1.1" stroke-linejoin="round" />
<path d="M308.8 363.4L308.8 444.4" fill="none" stroke="#f3c27c" stroke-width="1.1" stroke-linejoin="round" />
<path d="M229.4 385.2L229.4 438.2L241.8 444.4L241.8 497.4L220.0 497.4" fill="none" stroke="#f3c27c" stroke-width="1.0" stroke-linejoin="round" />
<path d="M241.8 497.4L394.6 497.4" fill="none" stroke="#f3c27c" stroke-width="1.1" stroke-linejoin="round" />
<path d="M276.1 500.5L276.1 522.3L263.6 534.8L251.2 547.3" fill="none" stroke="#f3c27c" stroke-width="1.0" stroke-linejoin="round" />
<path d="M336.9 450.6L336.9 497.4" fill="none" stroke="#f3c27c" stroke-width="1.0" stroke-linejoin="round" />
<path d="M344.7 354.0L344.7 385.2L341.6 425.7" fill="none" stroke="#f3c27c" stroke-width="1.0" stroke-linejoin="round" />
<path d="M0.2 503.6L9.6 491.2L12.7 469.3L34.5 447.5L78.2 407.0L78.2 354.0" fill="none" stroke="#f3c27c" stroke-width="1.1" stroke-linejoin="round" />
<path d="M77.5 407.0L77.5 559.7" fill="none" stroke="#f3c27c" stroke-width="1.1" stroke-linejoin="round" />
<path d="M0.2 527.0L20.5 527.0L22.1 541.0L43.9 559.7" fill="none" stroke="#f3c27c" stroke-width="1.0" stroke-linejoin="round" />
<path d="M268.6 497.1L272.9 522.8L260.0 540.0" fill="none" stroke="#f3c27c" stroke-width="1.0" stroke-linejoin="round" />
<path d="M251.4 366.2L251.4 445.6" fill="none" stroke="#f3c27c" stroke-width="1.0" stroke-linejoin="round" />
<path d="M183.4 229.6L255.2 229.6" fill="none" stroke="#f0c684" stroke-width="1.25" stroke-linejoin="round" />
<path d="M139.5 241.8L221.5 241.8" fill="none" stroke="#f0c684" stroke-width="1.25" stroke-linejoin="round" />
<path d="M141.0 245.4L177.6 245.4" fill="none" stroke="#f0c684" stroke-width="1.25" stroke-linejoin="round" />
<path d="M155.6 249.1L220.0 249.1" fill="none" stroke="#f0c684" stroke-width="1.25" stroke-linejoin="round" />
<path d="M182.0 253.5L220.0 253.5" fill="none" stroke="#f0c684" stroke-width="1.25" stroke-linejoin="round" />
<path d="M157.1 259.8L208.3 259.8" fill="none" stroke="#f0c684" stroke-width="1.25" stroke-linejoin="round" />
<path d="M193.7 294.9L242.0 294.9" fill="none" stroke="#f0c684" stroke-width="1.25" stroke-linejoin="round" />
<path d="M183.4 222.0L183.4 242.5" fill="none" stroke="#f0c684" stroke-width="1.25" stroke-linejoin="round" />
<path d="M255.2 229.3L255.2 322.0" fill="none" stroke="#f0c684" stroke-width="1.25" stroke-linejoin="round" />
<path d="M209.8 276.2L209.8 322.0" fill="none" stroke="#f0c684" stroke-width="1.25" stroke-linejoin="round" />
<path d="M173.2 241.0L173.2 251.3" fill="none" stroke="#f0c684" stroke-width="1.25" stroke-linejoin="round" />
<path d="M155.6 241.8L155.6 260.1" fill="none" stroke="#f0c684" stroke-width="1.25" stroke-linejoin="round" />
<path d="M167.3 241.8L167.3 260.1" fill="none" stroke="#f0c684" stroke-width="1.25" stroke-linejoin="round" />
<path d="M201.0 229.6L201.0 260.1" fill="none" stroke="#f0c684" stroke-width="1.25" stroke-linejoin="round" />
<path d="M220.0 229.6L220.0 253.5" fill="none" stroke="#f0c684" stroke-width="1.25" stroke-linejoin="round" />
<path d="M139.5 241.8L145.4 251.3" fill="none" stroke="#f0c684" stroke-width="1.25" stroke-linejoin="round" />
<path d="M255.2 229.6L262.5 222.0" fill="none" stroke="#f0c684" stroke-width="1.25" stroke-linejoin="round" />
<path d="M119.0 283.9L162.9 283.9" fill="none" stroke="#f0c684" stroke-width="1.25" stroke-linejoin="round" />
<path d="M0.1 140.7L39.9 140.7" fill="none" stroke="#e5806f" stroke-width="1.4" stroke-linejoin="round" />
<path d="M292.4 289.5L314.6 292.3L342.5 286.7L343.9 285.3" fill="none" stroke="#e88d7c" stroke-width="1.5" stroke-linejoin="round" />
<path d="M343.9 285.3L339.7 290.9L339.1 329.9L344.7 329.9L344.7 364.1" fill="none" stroke="#ee9a80" stroke-width="1.3" stroke-linejoin="round" />
<path d="M180.4 354.0L180.4 382.1L174.8 416.3L173.2 456.9L171.7 484.9L163.9 516.1L146.7 534.8L128.0 559.7" fill="none" stroke="#ee9788" stroke-width="1.4" stroke-linejoin="round" />
<path d="M179.8 222.0L179.8 251.3L181.2 276.2L181.2 322.0" fill="none" stroke="#e27a8e" stroke-width="1.5" stroke-linejoin="round" />
<path d="M8.0 478.7L153.0 478.7" fill="none" stroke="#ee9b8c" stroke-width="1.4" stroke-linejoin="round" />
<path d="M153.0 478.7L181.0 464.7L212.2 453.8" fill="none" stroke="#c7607f" stroke-width="1.4" stroke-linejoin="round" />
<path d="M220.0 450.0L394.6 450.0" fill="none" stroke="#ea8d90" stroke-width="1.5" stroke-linejoin="round" />
<path d="M393.3 450.0L393.3 497.4L413.3 528.6L425.7 544.1L428.9 559.7" fill="none" stroke="#ee9788" stroke-width="1.3" stroke-linejoin="round" />
<path d="M182.0 276.2L192.2 270.3L193.7 258.6L206.8 241.8L220.0 240.3L233.2 230.8" fill="none" stroke="#d9708c" stroke-width="1.4" stroke-linejoin="round" />
<path d="M174.6 276.9L215.6 276.2L221.5 282.0L280.1 284.2L291.8 289.3L319.0 290.1" fill="none" stroke="#e8877a" stroke-width="1.5" stroke-linejoin="round" />
<path d="M0.1 95.6L21.8 117.9L39.9 137.3L63.6 161.0L83.1 184.1" fill="none" stroke="#c7607f" stroke-width="1.6" stroke-linejoin="round" />
<path d="M74.7 174.0L105.3 204.6L138.7 240.8L161.0 263.1L180.5 285.3L205.5 315.9L230.0 343.8L236.1 352.1" fill="none" stroke="#c7607f" stroke-width="1.6" stroke-linejoin="round" />
<path d="M232.5 347.8L238.7 357.1L266.8 378.9L282.3 403.9L301.0 441.3L313.5 463.1L322.9 478.7L329.1 491.2L331.6 509.9L332.8 544.1L333.8 559.7" fill="none" stroke="#c7607f" stroke-width="1.6" stroke-linejoin="round" />
<path d="M75.5 173.2L106.2 203.8L139.6 240.0L161.8 262.2L181.3 284.5L206.4 315.1L230.8 342.9" fill="none" stroke="#8b8b8b" stroke-width="0.7" stroke-linejoin="round" />
<path d="M1.0 94.8L22.7 117.0L40.8 136.5L64.4 160.2L83.9 183.3" fill="none" stroke="#8b8b8b" stroke-width="0.7" stroke-linejoin="round" />
<path d="M0.2 431.9L22.1 461.5L43.9 506.7L78.2 551.9L87.5 559.7L96.9 566.0" fill="none" stroke="#c7607f" stroke-width="1.6" stroke-linejoin="round" />
<text x="223.3" y="42.6" font-size="9.2" text-anchor="middle" fill="#3b3b3b" stroke="#f6f4ef" stroke-width="1.6" paint-order="stroke" stroke-linejoin="round" >Oakhurst</text>
<text x="25.8" y="128.8" font-size="9.2" text-anchor="middle" fill="#3b3b3b" stroke="#f6f4ef" stroke-width="1.6" paint-order="stroke" stroke-linejoin="round" >Chowchilla</text>
<text x="215.7" y="175.6" font-size="9.2" text-anchor="middle" fill="#3b3b3b" stroke="#f6f4ef" stroke-width="1.6" paint-order="stroke" stroke-linejoin="round" >Millerton</text>
<text x="91.7" y="195.6" font-size="11.4" text-anchor="middle" fill="#3b3b3b" stroke="#f6f4ef" stroke-width="1.6" paint-order="stroke" stroke-linejoin="round" >Madera</text>
<text x="208" y="250.8" font-size="9" text-anchor="middle" fill="#3b3b3b" stroke="#f6f4ef" stroke-width="1.6" paint-order="stroke" stroke-linejoin="round" >Clovis</text>
<text x="181.3" y="286.4" font-size="12.2" text-anchor="middle" fill="#3b3b3b" stroke="#f6f4ef" stroke-width="1.6" paint-order="stroke" stroke-linejoin="round" >Fresno</text>
<text x="91.4" y="292.3" font-size="9" text-anchor="middle" fill="#3b3b3b" stroke="#f6f4ef" stroke-width="1.6" paint-order="stroke" stroke-linejoin="round" >Kerman</text>
<text x="256.5" y="298.7" font-size="9.2" text-anchor="middle" fill="#3b3b3b" stroke="#f6f4ef" stroke-width="1.6" paint-order="stroke" stroke-linejoin="round" >Sanger</text>
<text x="290.9" y="344.7" font-size="9.2" text-anchor="middle" fill="#3b3b3b" stroke="#f6f4ef" stroke-width="1.6" paint-order="stroke" stroke-linejoin="round" >Reedley</text>
<text x="237.7" y="355.3" font-size="9.2" text-anchor="middle" fill="#3b3b3b" stroke="#f6f4ef" stroke-width="1.6" paint-order="stroke" stroke-linejoin="round" >Selma</text>
<text x="311.5" y="366.5" font-size="9.2" text-anchor="middle" fill="#3b3b3b" stroke="#f6f4ef" stroke-width="1.6" paint-order="stroke" stroke-linejoin="round" >Dinuba</text>
<text x="257" y="378.5" font-size="9.2" text-anchor="middle" fill="#3b3b3b" stroke="#f6f4ef" stroke-width="1.6" paint-order="stroke" stroke-linejoin="round" >Kingsburg</text>
<text x="226.5" y="454.4" font-size="11.4" text-anchor="middle" fill="#3b3b3b" stroke="#f6f4ef" stroke-width="1.6" paint-order="stroke" stroke-linejoin="round" >Hanford</text>
<text x="342.8" y="453.2" font-size="11.4" text-anchor="middle" fill="#3b3b3b" stroke="#f6f4ef" stroke-width="1.6" paint-order="stroke" stroke-linejoin="round" >Visalia</text>
<text x="391.7" y="466.5" font-size="9.2" text-anchor="middle" fill="#3b3b3b" stroke="#f6f4ef" stroke-width="1.6" paint-order="stroke" stroke-linejoin="round" >Exeter</text>
<text x="324.8" y="502.5" font-size="9.2" text-anchor="middle" fill="#3b3b3b" stroke="#f6f4ef" stroke-width="1.6" paint-order="stroke" stroke-linejoin="round" >Tulare</text>
<text x="409.3" y="504.7" font-size="9.2" text-anchor="middle" fill="#3b3b3b" stroke="#f6f4ef" stroke-width="1.6" paint-order="stroke" stroke-linejoin="round" >Lindsay</text>
<text x="254.8" y="547.1" font-size="9.2" text-anchor="middle" fill="#3b3b3b" stroke="#f6f4ef" stroke-width="1.6" paint-order="stroke" stroke-linejoin="round" >Corcoran</text>
<text x="5.5" y="530.4" font-size="9.2" text-anchor="middle" fill="#3b3b3b" stroke="#f6f4ef" stroke-width="1.6" paint-order="stroke" stroke-linejoin="round" >ga</text>
<text x="2" y="279.6" font-size="9.2" text-anchor="middle" fill="#3b3b3b" stroke="#f6f4ef" stroke-width="1.6" paint-order="stroke" stroke-linejoin="round" >a</text>
<text x="427" y="560" font-size="10.5" text-anchor="middle" fill="#9a9a9a" stroke="#f6f4ef" stroke-width="1.6" paint-order="stroke" stroke-linejoin="round" >Portervi</text>
<text x="388.9" y="56" font-size="13.4" font-style="italic" text-anchor="middle" fill="#3f8a35" stroke="#f4f3ee" stroke-width="1.2" paint-order="stroke">Sierra National</text>
<text x="388.9" y="72.4" font-size="13.4" font-style="italic" text-anchor="middle" fill="#3f8a35" stroke="#f4f3ee" stroke-width="1.2" paint-order="stroke">Forest</text>
<circle cx="225.9" cy="274.3" r="7" fill="#5172ef" stroke="#4565ea" stroke-width="1.3"/>
<filter id="zs" x="-50%" y="-50%" width="200%" height="200%"><feDropShadow dx="0" dy="1" stdDeviation="1.8" flood-color="#000" flood-opacity=".55"/></filter>
<rect x="9.2" y="8.9" width="22.7" height="46.1" rx="3.6" fill="#fff" filter="url(#zs)"/>
<path d="M9.2 31.6H31.9" stroke="#bbb" stroke-width=".9"/>
<path d="M15.9 21.4H25.1M20.5 16.8V26" stroke="#111" stroke-width="1.6"/>
<path d="M16 44.4H25" stroke="#111" stroke-width="1.6"/>
<rect x="268.6" y="547.3" width="182.4" height="12.7" fill="rgba(255,255,255,.8)"/>
<text x="272.6" y="556.6" font-size="10" fill="#333"><tspan fill="#1f6f9c">Leaflet</tspan> | © OpenStreetMap contributors</text>
</svg>
</div>

</body>
</html>
